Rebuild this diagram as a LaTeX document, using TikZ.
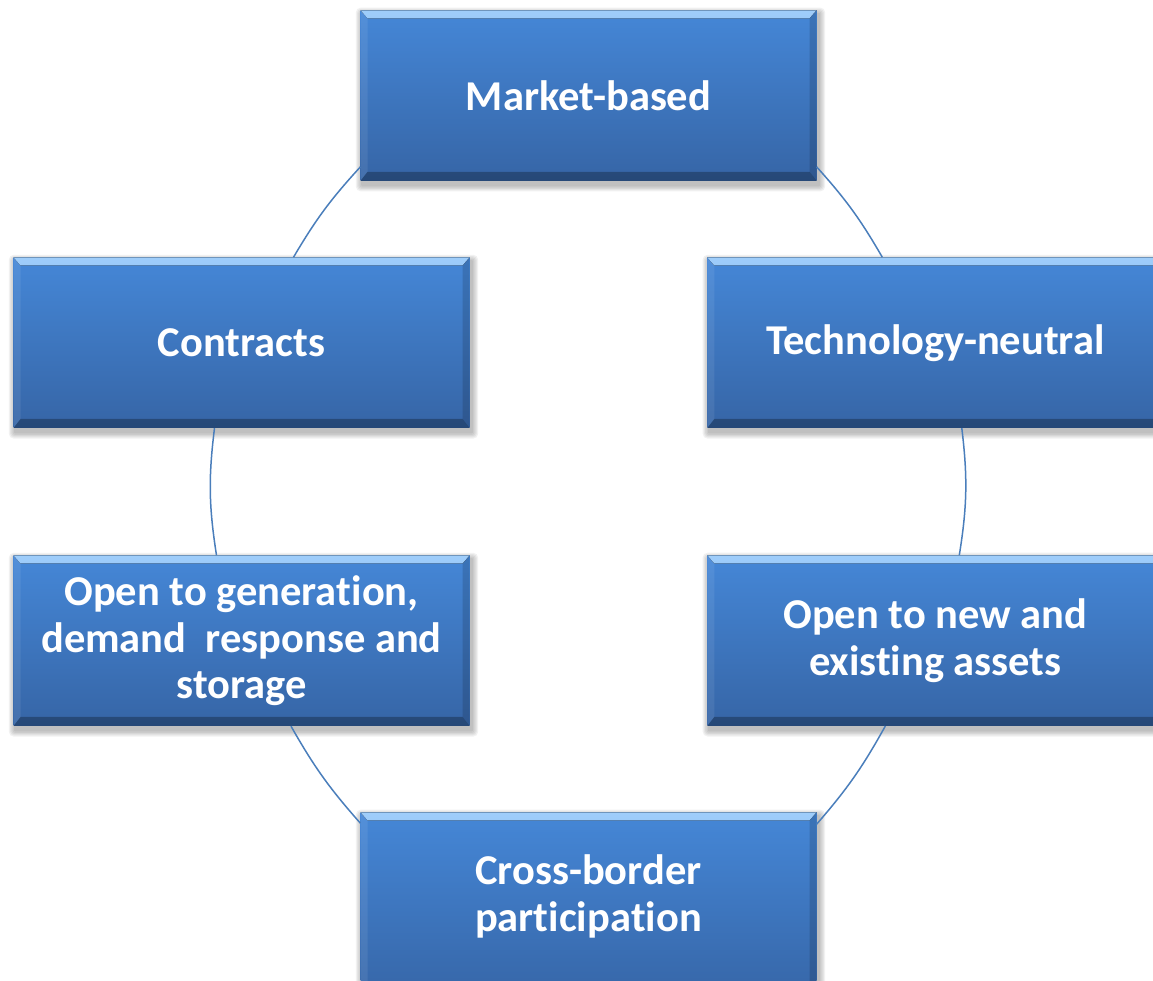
\documentclass[tikz,border=0pt]{standalone}
\usepackage{fontspec}
\setmainfont{Carlito}[Ligatures=NoCommon]
\newcommand{\nl}{\kern0pt}
\pgfdeclarelayer{shadow}
\pgfsetlayers{shadow,main}
\definecolor{boxtop}{HTML}{4587D7}
\definecolor{boxbot}{HTML}{3665A6}
\definecolor{bevhi}{HTML}{9FCDFA}
\definecolor{bevlo}{HTML}{5E9DE8}
\definecolor{linec}{HTML}{4A7EBB}
\tikzset{
  box/.style={rectangle, minimum width=456pt, minimum height=170.5pt, inner sep=0pt,
    top color=boxtop, bottom color=boxbot, text=white, align=center,
    font=\fontsize{42.5}{46.5}\selectfont\bfseries,
    path picture={
      \fill[top color=bevhi, bottom color=bevlo]
        (path picture bounding box.north west) -- (path picture bounding box.north east)
        -- ([shift={(-7pt,-8pt)}]path picture bounding box.north east)
        -- ([shift={(7pt,-8pt)}]path picture bounding box.north west) -- cycle;
      \fill[black, opacity=0.28]
        (path picture bounding box.south west) -- (path picture bounding box.south east)
        -- ([shift={(-7pt,9pt)}]path picture bounding box.south east)
        -- ([shift={(7pt,9pt)}]path picture bounding box.south west) -- cycle;
      \fill[white, opacity=0.08]
        (path picture bounding box.north west)
        -- ([shift={(7pt,-8pt)}]path picture bounding box.north west)
        -- ([shift={(7pt,9pt)}]path picture bounding box.south west)
        -- (path picture bounding box.south west) -- cycle;
      \fill[black, opacity=0.14]
        (path picture bounding box.north east)
        -- ([shift={(-7pt,-8pt)}]path picture bounding box.north east)
        -- ([shift={(-7pt,9pt)}]path picture bounding box.south east)
        -- (path picture bounding box.south east) -- cycle;
    }},
  conn/.style={draw=linec, line width=1.5pt},
}
\begin{document}
\begin{tikzpicture}[x=1pt,y=-1pt]
\useasboundingbox (0,0) rectangle (1153,980);
\clip (0,0) rectangle (1153,980);
\node[box] (mb) at (588.5,95.5) {Market-based};
\node[box] (ct) at (241.5,342.7) {Contracts};
\node[box] (tn) at (935.3,342.7) {Technology-neutral};
\node[box] (og) at (241.5,640.7) {Open to genera\nl tion,\\demand\ \ response and\\storage};
\node[box] (on) at (935.3,640.6) {Open to new and\\existing assets};
\node[box, minimum height=190pt] (cb) at (588.5,907.3) {Cross-border\\par\nl ticipa\nl tion\rule[-28pt]{0pt}{28pt}};
\begin{pgfonlayer}{shadow}
\foreach \n in {mb,ct,tn,og,on,cb}{
  \foreach \e in {1,...,5}{
    \fill[black, opacity=0.055, rounded corners=\e pt]
      ([shift={({(2-1.3*\e)*1pt},{(-4+1.3*\e)*1pt})}]\n.north west) rectangle
      ([shift={({(2+1.3*\e)*1pt},{(-4-1.3*\e)*1pt})}]\n.south east);
  }
}
\end{pgfonlayer}
\draw[conn] ([yshift=14pt]mb.south west) to[bend right=6] ([xshift=52pt]ct.north);
\draw[conn] ([xshift=-27pt]ct.south) to[bend right=8] ([xshift=-25pt]og.north);
\draw[conn] ([xshift=49.5pt]og.south) to[bend right=6] ([yshift=-11pt]cb.north west);
\draw[conn] ([yshift=-12pt]cb.north east) to[bend right=6] ([xshift=-50pt]on.south);
\draw[conn] ([xshift=24pt]on.north) to[bend right=8] ([xshift=26.5pt]tn.south);
\draw[conn] ([xshift=-53pt]tn.north) to[bend right=6] ([yshift=14pt]mb.south east);
\end{tikzpicture}
\end{document}
